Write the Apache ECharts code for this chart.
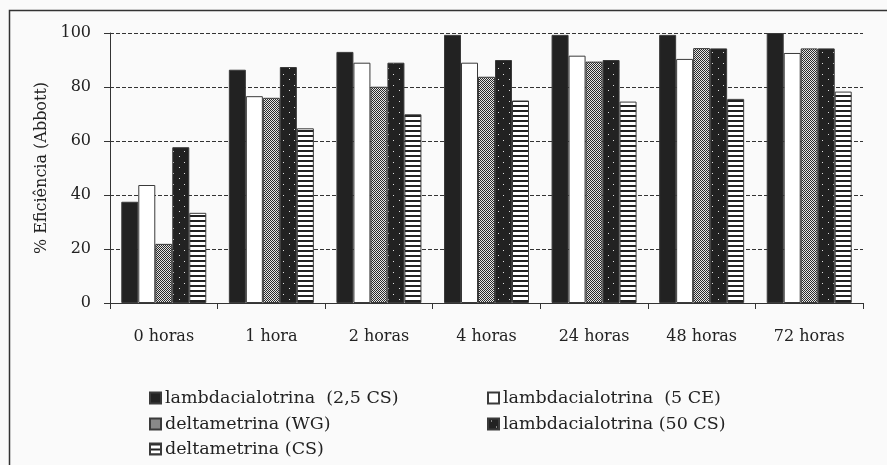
<!DOCTYPE html>
<html>
<head>
<meta charset="utf-8">
<script src="https://cdn.jsdelivr.net/npm/echarts@6/dist/echarts.min.js"></script>
<style>html,body{margin:0;padding:0;background:#fafafa}#c{width:887px;height:465px}</style>
</head>
<body>
<div id="c"></div>
<script>
const categories = ['0 horas', '1 hora', '2 horas', '4 horas', '24 horas', '48 horas', '72 horas'];
const seriesNames = ['lambdacialotrina  (2,5 CS)', 'lambdacialotrina  (5 CE)', 'deltametrina (WG)', 'lambdacialotrina (50 CS)', 'deltametrina (CS)'];
const lambda25CS = [37.5, 86.4, 93, 99.3, 99.3, 99.3, 100];
const lambda5CE = [43.7, 76.6, 89, 89, 91.6, 90.4, 92.6];
const deltaWG = [21.9, 76, 80.1, 83.8, 89.4, 94.4, 94.3];
const lambda50CS = [57.7, 87.4, 89, 90, 90, 94.3, 94.3];
const deltaCS = [33.4, 64.7, 69.9, 75, 74.6, 75.6, 78.3];
const yTicks = [0, 20, 40, 60, 80, 100];

function makeCanvas(w, h, draw) {
  const c = document.createElement('canvas');
  c.width = w; c.height = h;
  draw(c.getContext('2d'));
  return c;
}
const ditherPat = makeCanvas(2, 2, g => {
  g.fillStyle = '#e6e6e6'; g.fillRect(0, 0, 2, 2);
  g.fillStyle = '#2a2a2a'; g.fillRect(0, 0, 1, 1); g.fillRect(1, 1, 1, 1);
});
const dotsPat = makeCanvas(11, 11, g => {
  g.fillStyle = '#222'; g.fillRect(0, 0, 11, 11);
  g.fillStyle = '#e0e0e0'; g.fillRect(3, 2, 1, 1); g.fillRect(8, 8, 1, 1);
});
const stripePat = makeCanvas(4, 5, g => {
  g.fillStyle = '#fff'; g.fillRect(0, 0, 4, 5);
  g.fillStyle = '#222'; g.fillRect(0, 0, 4, 2);
});

const fills = [
  '#222',
  '#fff',
  { image: ditherPat, repeat: 'repeat' },
  { image: dotsPat, repeat: 'repeat' },
  { image: stripePat, repeat: 'repeat' }
];
const dataArr = [lambda25CS, lambda5CE, deltaWG, lambda50CS, deltaCS];
const font = 'DejaVu Serif';

const series = seriesNames.map((n, i) => ({
  name: n,
  type: 'bar',
  data: dataArr[i],
  barWidth: 17,
  barGap: '0%',
  itemStyle: { color: fills[i], borderColor: '#3a3a3a', borderWidth: 1 }
}));

const legendPos = [
  [149, 389], [487, 389], [149, 415], [487, 415], [149, 440]
];
const legends = seriesNames.map((n, i) => ({
  data: [{ name: n, icon: 'rect' }],
  left: legendPos[i][0],
  top: legendPos[i][1],
  orient: 'vertical',
  padding: 0,
  itemWidth: 11,
  itemHeight: 11,
  itemGap: 4,
  selectedMode: false,
  textStyle: { fontFamily: font, fontSize: 17.5, color: '#222', padding: [0, 0, 0, -1] }
}));

const chart = echarts.init(document.getElementById('c'), null, { renderer: 'canvas' });
chart.setOption({
  backgroundColor: '#fafafa',
  animation: false,
  grid: { left: 110, right: 24, top: 33, bottom: 162, containLabel: false },
  legend: legends,
  xAxis: {
    type: 'category',
    data: categories,
    axisLine: { lineStyle: { color: '#333', width: 1 } },
    axisTick: { show: true, length: 6, lineStyle: { color: '#333' } },
    axisLabel: { fontFamily: font, fontSize: 16, color: '#222', margin: 26 }
  },
  yAxis: {
    type: 'value',
    min: yTicks[0],
    max: yTicks[yTicks.length - 1],
    interval: 20,
    name: '% Eficiência (Abbott)',
    nameLocation: 'middle',
    nameGap: 53,
    nameTextStyle: { fontFamily: font, fontSize: 16, color: '#222' },
    axisLine: { show: true, lineStyle: { color: '#333', width: 1 } },
    axisTick: { show: true, length: 6, lineStyle: { color: '#333' } },
    axisLabel: { fontFamily: font, fontSize: 16, color: '#222', margin: 19 },
    splitLine: { show: true, lineStyle: { color: '#333', type: [4, 2], width: 1 } }
  },
  graphic: [{
    type: 'polyline',
    shape: { points: [[9.5, 470], [9.5, 10.5], [887, 10.5]] },
    style: { stroke: '#333', lineWidth: 1.5, fill: null },
    silent: true
  }],
  series: series
});
</script>
</body>
</html>
